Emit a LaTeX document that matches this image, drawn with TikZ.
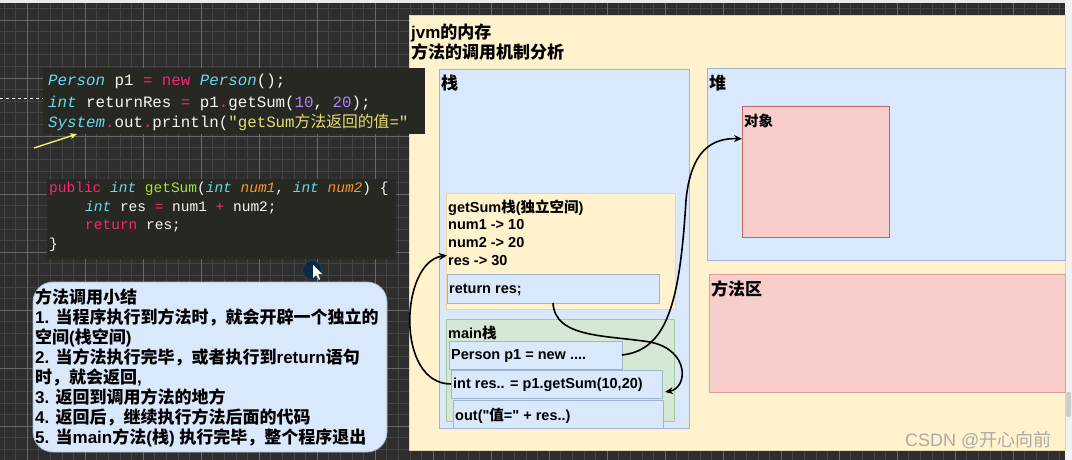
\documentclass[tikz,border=0pt]{standalone}
\usepackage{fontspec}
\setmainfont{Liberation Sans}[Ligatures=TeXOff]
\setmonofont{Liberation Mono}
\newfontfamily\cjk{Noto Sans CJK SC}[Ligatures=TeXOff]
\newcommand\zh[1]{{\cjk #1}}
\usetikzlibrary{arrows.meta,calc}
\definecolor{bgdark}{HTML}{2E2E2E}
\definecolor{gminor}{HTML}{444444}
\definecolor{gmajor}{HTML}{686868}
\definecolor{panel}{HTML}{FFF2CC}
\definecolor{panelb}{HTML}{E6D6A6}
\definecolor{bluef}{HTML}{DAE8FC}
\definecolor{blueb}{HTML}{9FB4D2}
\definecolor{redf}{HTML}{F8CECC}
\definecolor{redb}{HTML}{C06460}
\definecolor{redb2}{HTML}{E39A98}
\definecolor{yelf}{HTML}{FFF2CC}
\definecolor{yelb}{HTML}{EDD79A}
\definecolor{grnf}{HTML}{D5E8D4}
\definecolor{grnb}{HTML}{A7C79F}
\definecolor{codebg}{HTML}{272822}
\definecolor{cpk}{HTML}{F92672}
\definecolor{ccy}{HTML}{66D9EF}
\definecolor{cgr}{HTML}{A6E22E}
\definecolor{cor}{HTML}{FD971F}
\definecolor{cpu}{HTML}{AE81FF}
\definecolor{cyl}{HTML}{E6DB74}
\definecolor{cwh}{HTML}{F8F8F2}
\begin{document}
\begin{tikzpicture}[x=1pt,y=-1pt,
  box/.style={draw, line width=0.8pt, anchor=north west, inner sep=0pt, outer sep=0pt},
  lab/.style={anchor=base west, inner sep=0pt, font=\bfseries\fontsize{17}{17}\selectfont},
  lbl/.style={anchor=base west, inner sep=0pt, font=\bfseries\fontsize{14.5}{14.5}\selectfont},
  sum/.style={anchor=base west, inner sep=0pt, font=\bfseries\fontsize{17}{17}\selectfont},
  codeA/.style={anchor=base west, inner sep=0pt, text=cwh, font=\ttfamily\fontsize{15.8}{15.8}\selectfont},
  codeB/.style={anchor=base west, inner sep=0pt, text=cwh, font=\ttfamily\fontsize{14.5}{14.5}\selectfont},
  conn/.style={line width=1.6pt, -{Stealth[length=8pt,width=7pt]}}]
\useasboundingbox (0,0) rectangle (1072,460);
% background grid
\fill[bgdark] (0,0) rectangle (1072,460);
\foreach \i in {0,...,95} \draw[gminor, line width=0.6pt] ({-31+11.6*\i},0) -- ++(0,460);
\foreach \i in {0,...,45} \draw[gminor, line width=0.6pt] (0,{-38+11.6*\i}) -- ++(1072,0);
\foreach \k in {-1,...,18} \draw[gmajor, line width=0.8pt] ({27+58*\k},0) -- ++(0,460);
\foreach \k in {-1,...,8} \draw[gmajor, line width=0.8pt] (0,{20+58*\k}) -- ++(1072,0);
\fill[white!92!black] (0,0) rectangle (1072,3);
\fill[white!95!black] (1065,0) rectangle (1072,460);
\fill[white!80!black, rounded corners=2pt] (1066,392) rectangle (1071,417);
\draw[white, dashed, line width=0.6pt] (0,98) -- (43,98);

% main panel
\node[box, draw=panelb, fill=panel, minimum width=656, minimum height=435] (panel) at (409,15) {};
\node[lab] (t1) at (411,38.3) {jvm\zh{的内存}};
\node[lab] (t2) at (411,58.3) {\zh{方法的调用机制分析}};

% code box 1
\node[box, draw=none, fill=codebg, minimum width=382, minimum height=66] (code1) at (43,68) {};
\node[codeA] (c11) at (48,86) {\textit{\color{ccy}Person} p1 {\color{cpk}=} {\color{cpk}new} \textit{\color{ccy}Person}();};
\node[codeA] (c12) at (48,107) {\textit{\color{ccy}int} returnRes {\color{cpk}=} p1{\color{cpk}.}getSum({\color{cpu}10}, {\color{cpu}20});};
\node[codeA] (c13) at (48,128) {\textit{\color{ccy}System}{\color{cpk}.}out{\color{cpk}.}println({\color{cyl}"getSum\zh{方法返回的值}="}};
\coordinate (ya) at (34,148);
\draw[{}-{Stealth[length=7pt,width=6pt]}, line width=1.4pt, draw={rgb,255:red,245;green,240;blue,100}] (ya) -- (code1.south west -| 77,134);

% code box 2
\node[box, draw=none, fill=codebg, minimum width=349, minimum height=80] (code2) at (47,179) {};
\node[codeB] (c21) at (49,192) {{\color{cpk}public} \textit{\color{ccy}int} {\color{cgr}getSum}(\textit{\color{ccy}int} \textit{\color{cor}num1}, \textit{\color{ccy}int} \textit{\color{cor}num2}) \{};
\node[codeB] (c22) at (85,211) {\textit{\color{ccy}int} res {\color{cpk}=} num1 {\color{cpk}+} num2;};
\node[codeB] (c23) at (85,229) {{\color{cpk}return} res;};
\node[codeB] (c24) at (49,248) {\}};

% cursor
\node[circle, fill={rgb,255:red,14;green,40;blue,70}, draw={rgb,255:red,40;green,80;blue,70}, minimum size=19, inner sep=0] (cur) at (312,270) {};
\fill[white] (313,265) -- (313,278) -- (316,275) -- (319,280) -- (320,279) -- (318,274) -- (322,274) -- cycle;

% summary
\node[box, draw={rgb,255:red,170;green,185;blue,205}, fill=bluef, rounded corners=20pt, minimum width=354, minimum height=170] (summ) at (33,282) {};
\node[sum] (s1) at (35,303.3) {\zh{方法调用小结}};
\node[sum] (s2) at (35,323.3) {1. \zh{当程序执行到方法时，就会开辟一个独立的}};
\node[sum] (s3) at (35,343.3) {\zh{空间}(\zh{栈空间})};
\node[sum] (s4) at (35,363.3) {2. \zh{当方法执行完毕，或者执行到}return\zh{语句}};
\node[sum] (s5) at (35,383.3) {\zh{时，就会返回},};
\node[sum] (s6) at (35,403.3) {3. \zh{返回到调用方法的地方}};
\node[sum] (s7) at (35,423.3) {4. \zh{返回后，继续执行方法后面的代码}};
\node[sum] (s8) at (35,443.3) {5. \zh{当}main\zh{方法}(\zh{栈}) \zh{执行完毕，整个程序退出}};

% stack
\node[box, draw=blueb, fill=bluef, minimum width=250, minimum height=359] (stack) at (439,69) {};
\node[lab] (stl) at (441,89.3) {\zh{栈}};
% heap
\node[box, draw=blueb, fill=bluef, minimum width=358, minimum height=192] (heap) at (707,68) {};
\node[lab] (hpl) at (709,89.3) {\zh{堆}};
\node[box, draw=redb, fill=redf, minimum width=147, minimum height=131] (obj) at (742,106) {};
\node[lbl] (objl) at (744,126.4) {\zh{对象}};
% method area
\node[box, draw=redb2, fill=redf, minimum width=356, minimum height=118] (marea) at (709,274) {};
\node[lab] (mal) at (711,295.3) {\zh{方法区}};

% getSum frame
\node[box, draw=yelb, fill=yelf, minimum width=229, minimum height=116] (gs) at (446,193) {};
\node[lbl] (g1) at (448,212.4) {getSum\zh{栈}(\zh{独立空间})};
\node[lbl] (g2) at (448,229.4) {num1 -> 10};
\node[lbl] (g3) at (448,247.4) {num2 -> 20};
\node[lbl] (g4) at (448,265.4) {res -> 30};
\node[box, draw=blueb, fill=bluef, minimum width=212, minimum height=29] (ret) at (447,274) {};
\node[lbl] (retl) at (449,293.4) {return res;};

% main frame
\node[box, draw=grnb, fill=grnf, minimum width=228, minimum height=102] (mainf) at (446,319) {};
\node[lbl] (ml) at (448,338.4) {main\zh{栈}};
\node[box, draw=blueb, fill=bluef, minimum width=173, minimum height=28] (pbox) at (449,341) {};
\node[lbl] (pl) at (451,359.4) {Person p1 = new ....};
\node[box, draw=blueb, fill=bluef, minimum width=211, minimum height=28] (ires) at (451,370) {};
\node[lbl] (il) at (453,388.4) {int res.. = p1.getSum(10,20)};
\node[box, draw=blueb, fill=bluef, minimum width=210, minimum height=28] (outb) at (453,400) {};
\node[lbl] (ol) at (455,420.4) {out("\zh{值}=" + res..)};

% connectors
\draw[conn] (pbox.east) .. controls (668,350) and (680,300) .. (686,200)
  .. controls (691,150) and (712,138) .. ($(obj.north west)!0.25!(obj.south west)$);
\draw[conn] (ires.west) .. controls (395,384) and (400,262) .. ($(g4.west)+(-1,-5)$);
\draw[conn] (ret.south) .. controls (555,338) and (605,335) .. (650,342)
  .. controls (690,350) and (688,388) .. ($(ires.east)+(3,8)$);

% watermark
\node[anchor=base west, inner sep=0pt, text={rgb,255:red,170;green,170;blue,170}, font=\fontsize{18}{18}\selectfont] (wm) at (905,446) {CSDN @\zh{开心向前}};
\end{tikzpicture}
\end{document}
